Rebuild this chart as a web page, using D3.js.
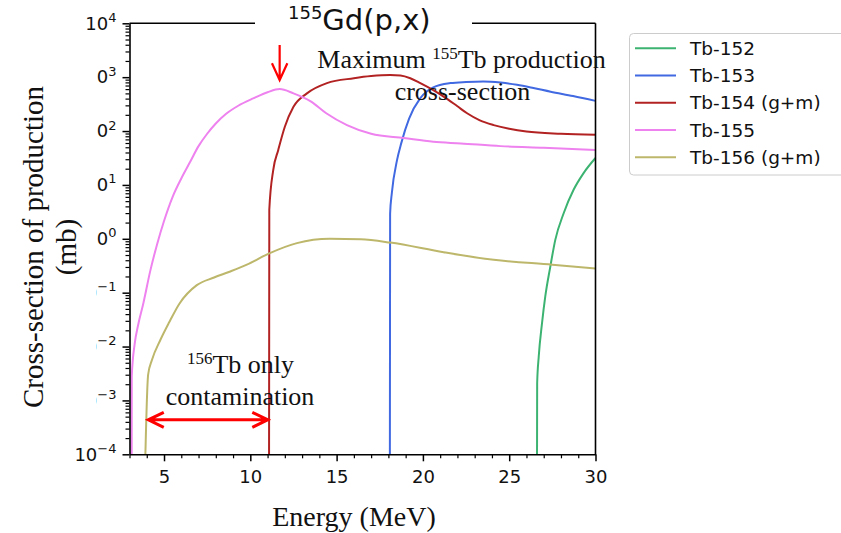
<!DOCTYPE html>
<html><head><meta charset="utf-8">
<script src="https://cdn.jsdelivr.net/npm/d3@7"></script>
<style>
body{margin:0;background:#fff}
svg{display:block}
</style></head><body>
<svg id="chart" width="841" height="533"></svg>
<script>
// Axis settings
const energyDomain = [3, 30];
const xTickValues = [5, 10, 15, 20, 25, 30];
const yDecades = [-4, -3, -2, -1, 0, 1, 2, 3, 4];

// Series names and colours
const seriesNames = ["Tb-152", "Tb-153", "Tb-154 (g+m)", "Tb-155", "Tb-156 (g+m)"];
const seriesColors = ["#3cb371", "#4169e1", "#b22222", "#ee82ee", "#bdb76b"];

// Cross-sections in mb vs proton energy in MeV (1e-6 marks "below threshold")
const tb152 = [[26.6,1e-6],[26.62,0.00209],[26.71,0.00646],[26.9,0.0269],[27.09,0.0851],[27.38,0.302],
  [27.67,0.955],[28.15,2.95],[28.73,8.13],[29.31,16.6],[30,31.6]];
const tb153 = [[18.08,1e-6],[18.1,2.95],[18.2,7.08],[18.5,28.8],[18.75,60.3],[19.2,170],[19.85,407],
  [20.6,646],[21.6,776],[22.5,813],[23.5,832],[24.5,794],[25.45,724],[26.4,631],[27.4,537],[28.7,447],[30,363]];
const tb154 = [[11.08,1e-6],[11.1,3.47],[11.33,19.1],[11.62,44.7],[12.0,120],[12.5,282],[13.28,501],
  [14.44,776],[16.0,955],[17.0,1047],[18.1,1096],[18.7,1072],[19.27,955],[19.85,776],[20.6,575],
  [21.2,437],[22.0,288],[22.56,214],[23.3,158],[24.1,129],[25.0,110],[26.0,97.7],[28.0,89.1],[30,85.1]];
const tb155 = [[3.12,1e-6],[3.13,0.00282],[3.3,0.0112],[3.5,0.0251],[3.8,0.0631],[4.2,0.251],[4.6,0.794],
  [5.0,2.14],[5.5,6.03],[6.0,13.2],[6.5,26.3],[7.0,52.5],[7.5,89.1],[8.0,138],[8.6,209],[9.3,295],
  [10.2,407],[11.0,525],[11.7,603],[12.5,501],[13.5,355],[14.4,214],[15.6,129],[17.0,89.1],[18.9,74.1],
  [20.6,63.1],[22.2,58.9],[24.5,52.5],[27.0,49.0],[30,44.7]];
const tb156 = [[3.85,1e-5],[4.08,0.00302],[4.3,0.00562],[4.8,0.0135],[5.3,0.0282],[5.9,0.0631],[6.9,0.138],
  [7.9,0.191],[8.8,0.245],[9.8,0.331],[11.1,0.537],[12.7,0.832],[14.6,1.0],[16.4,0.977],[18.1,0.851],
  [21.2,0.562],[24.1,0.407],[27.5,0.331],[30,0.282]];
const seriesData = [tb152, tb153, tb154, tb155, tb156];

// Annotation anchors (MeV / mb)
const peakEnergy155 = 11.7;
const onlyTb156Range = [4.0, 11.1];
const onlyTb156Level = 10 ** -3.36;

const svg = d3.select("#chart");
const L = 129.5, R = 595.5, T = 23.3, B = 454.3;
const x = d3.scaleLinear().domain(energyDomain).range([L, R]);
const y = d3.scaleLog().domain([1e-4, 1e4]).range([B, T]);

const sans = "'DejaVu Sans', sans-serif";
const serif = "'Liberation Serif', 'Times New Roman', serif";

svg.append("defs").append("clipPath").attr("id", "plotClip")
  .append("rect").attr("x", L).attr("y", T).attr("width", R - L).attr("height", B - T);

// Data lines
const line = d3.line().x(d => x(d[0])).y(d => y(d[1])).curve(d3.curveMonotoneX);
svg.append("g").attr("clip-path", "url(#plotClip)")
  .selectAll("path").data(seriesData).join("path")
  .attr("d", line).attr("fill", "none")
  .attr("stroke", (d, i) => seriesColors[i]).attr("stroke-width", 2);

// X axis with integer minor ticks
const xMinor = d3.range(3, 31).filter(v => v % 5 !== 0);
svg.append("g").attr("transform", `translate(0,${B})`)
  .call(d3.axisBottom(x).tickValues(xMinor).tickSize(4).tickSizeOuter(0).tickFormat(""))
  .call(g => g.select(".domain").remove())
  .selectAll("line").attr("stroke-width", 1.2);
const xAxisG = svg.append("g").attr("transform", `translate(0,${B})`)
  .call(d3.axisBottom(x).tickValues(xTickValues).tickSize(7).tickPadding(9).tickSizeOuter(0));
xAxisG.select(".domain").attr("stroke-width", 1.6);
xAxisG.selectAll("line").attr("stroke-width", 1.5);
xAxisG.selectAll("text").attr("font-family", sans).attr("font-size", 18).attr("fill", "#111");

// Y axis with log minor ticks
const yMinor = [];
yDecades.slice(0, -1).forEach(k => { for (let m = 2; m <= 9; m++) yMinor.push(m * 10 ** k); });
svg.append("g").attr("transform", `translate(${L},0)`)
  .call(d3.axisLeft(y).tickValues(yMinor).tickSize(4).tickSizeOuter(0).tickFormat(""))
  .call(g => g.select(".domain").remove())
  .selectAll("line").attr("stroke-width", 1.2);
const yAxisG = svg.append("g").attr("transform", `translate(${L},0)`)
  .call(d3.axisLeft(y).tickValues(yDecades.map(k => 10 ** k)).tickSize(7).tickPadding(6).tickSizeOuter(0));
yAxisG.select(".domain").attr("stroke-width", 1.6);
yAxisG.selectAll("line").attr("stroke-width", 1.5);
yAxisG.selectAll(".tick text").each(function(d) {
  const k = Math.round(Math.log10(d));
  const t = d3.select(this).text(null).attr("font-family", sans).attr("font-size", 18).attr("fill", "#111");
  t.append("tspan").text("10");
  t.append("tspan").attr("font-size", 13).attr("dy", "-0.6em").text(k < 0 ? "\u2212" + Math.abs(k) : String(k));
});

// Top and right spines
svg.append("line").attr("x1", L).attr("x2", R).attr("y1", T).attr("y2", T).attr("stroke", "#000").attr("stroke-width", 1.6);
svg.append("line").attr("x1", R).attr("x2", R).attr("y1", T).attr("y2", B).attr("stroke", "#000").attr("stroke-width", 1.6);

// Title on a white plate
svg.append("rect").attr("x", 255).attr("y", 0).attr("width", 217).attr("height", 40).attr("fill", "#fff");
const title = svg.append("text").attr("x", 288).attr("y", 30).attr("font-family", sans).attr("fill", "#111");
title.append("tspan").attr("font-size", 18).attr("dy", -11.5).text("155");
title.append("tspan").attr("font-size", 29).attr("dy", 11.5).text("Gd(p,x)");

// Annotations
const red = "#ff0000";
const ax = x(peakEnergy155);
svg.append("path").attr("fill", "none").attr("stroke", red).attr("stroke-width", 2.2)
  .attr("d", `M${ax},45V79.5M${ax - 7.7},63.3L${ax},80L${ax + 7.7},63.3`);

const ay = y(onlyTb156Level), a0 = x(onlyTb156Range[0]), a1 = x(onlyTb156Range[1]);
svg.append("path").attr("fill", "none").attr("stroke", red).attr("stroke-width", 3)
  .attr("d", `M${a0 + 1},${ay}H${a1 - 1}M${a0 + 17},${ay - 7.5}L${a0 + 1.5},${ay}L${a0 + 17},${ay + 7.5}` +
             `M${a1 - 17},${ay - 7.5}L${a1 - 1.5},${ay}L${a1 - 17},${ay + 7.5}`);

function noteLine(cx, base, parts) {
  const t = svg.append("text").attr("x", cx).attr("y", base).attr("text-anchor", "middle")
    .attr("font-family", serif).attr("font-size", 26).attr("fill", "#111");
  parts.forEach(p => {
    const s = t.append("tspan").text(p.text);
    if (p.sup) s.attr("font-size", 17).attr("dy", -9);
    if (p.after) s.attr("dy", 9);
  });
}
noteLine(461.5, 68, [{text: "Maximum "}, {text: "155", sup: true}, {text: "Tb production", after: true}]);
noteLine(462.5, 100, [{text: "cross-section"}]);
noteLine(240.5, 373, [{text: "156", sup: true}, {text: "Tb only", after: true}]);
noteLine(240, 405, [{text: "contamination"}]);

// Y label on a white plate
svg.append("rect").attr("x", 0).attr("y", 45).attr("width", 96).attr("height", 395).attr("fill", "#fff");
const yl = svg.append("g").attr("transform", "translate(0,247) rotate(-90)");
yl.append("text").attr("x", 0).attr("y", 43).attr("text-anchor", "middle")
  .attr("font-family", serif).attr("font-size", 29).attr("fill", "#111").text("Cross-section of production");
yl.append("text").attr("x", 0).attr("y", 76).attr("text-anchor", "middle")
  .attr("font-family", serif).attr("font-size", 29).attr("fill", "#111").text("(mb)");

// X label
svg.append("text").attr("x", 354).attr("y", 526).attr("text-anchor", "middle")
  .attr("font-family", serif).attr("font-size", 28).attr("fill", "#111").text("Energy (MeV)");

// Legend
const lg = svg.append("g");
lg.append("rect").attr("x", 629.5).attr("y", 33.5).attr("width", 240).attr("height", 141.5)
  .attr("rx", 4).attr("fill", "#fff").attr("stroke", "#cccccc").attr("stroke-width", 1);
const rows = lg.selectAll("g.row").data(seriesNames).join("g").attr("class", "row")
  .attr("transform", (d, i) => `translate(0,${48.3 + i * 27.25})`);
rows.append("line").attr("x1", 635).attr("x2", 676).attr("stroke", (d, i) => seriesColors[i]).attr("stroke-width", 2);
rows.append("text").attr("x", 690).attr("y", 6.6).attr("font-family", sans).attr("font-size", 18.5)
  .attr("fill", "#111").text(d => d);
</script>
</body></html>
